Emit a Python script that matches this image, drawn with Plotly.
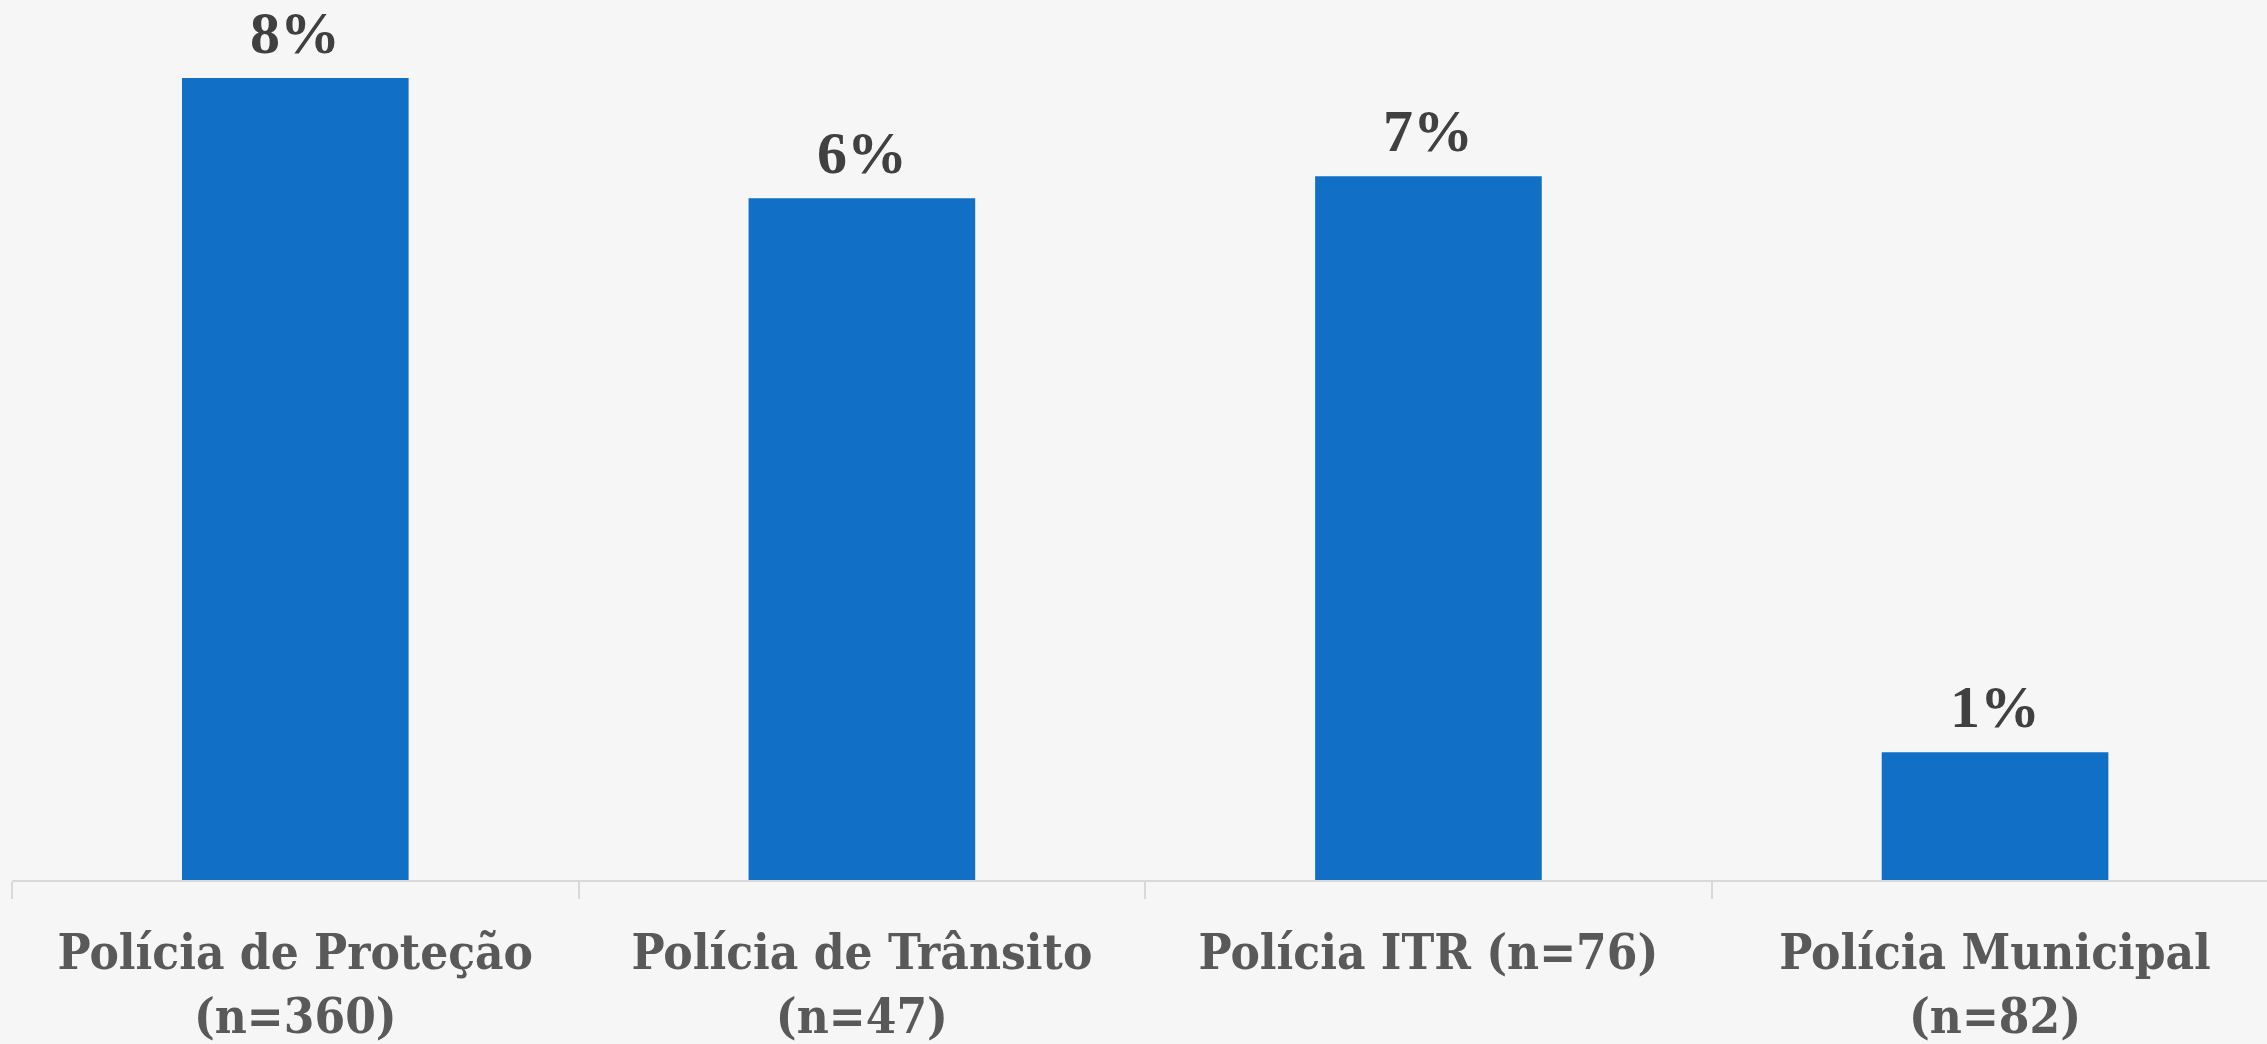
import plotly.graph_objects as go

categories = [
    "Polícia de Proteção<br>(n=360)",
    "Polícia de Trânsito<br>(n=47)",
    "Polícia ITR (n=76)",
    "Polícia Municipal<br>(n=82)",
]
values = [0.076, 0.0646, 0.0667, 0.0121]
labels = [f"{round(v * 100)}%" for v in values]

BG = "#f6f6f6"
fig = go.Figure(
    go.Bar(
        x=categories,
        y=values,
        marker=dict(color="#116FC6", line=dict(width=0)),
        width=0.4,
        hoverinfo="skip",
    )
)
for c, v, t in zip(categories, values, labels):
    fig.add_annotation(
        x=c, y=v, text=t, showarrow=False, yanchor="bottom", yshift=10,
        font=dict(family="Liberation Serif", size=60, color="#404040", weight="bold"),
    )
fig.update_layout(
    width=2267,
    height=1044,
    margin=dict(l=12, r=0, t=0, b=164),
    paper_bgcolor=BG,
    plot_bgcolor=BG,
    showlegend=False,
    xaxis=dict(
        range=[-0.5, 3.48],
        automargin=False,
        showline=True,
        linecolor="#d9d9d9",
        linewidth=2,
        ticks="outside",
        tickson="boundaries",
        ticklen=17,
        tickcolor="#d9d9d9",
        tickwidth=2,
        ticklabelstandoff=28,
        tickfont=dict(family="DejaVu Serif Condensed, Liberation Serif", size=49,
                      color="#595959", weight="bold"),
        showgrid=False,
    ),
    yaxis=dict(visible=False, range=[0, 0.0834], showgrid=False, zeroline=False,
               automargin=False),
    font=dict(family="Liberation Serif"),
)
fig.write_html(
    "out.html",
    config={"displayModeBar": False},
    post_script="document.body.style.margin='0';document.body.style.background='#f6f6f6';document.body.style.overflow='hidden';",
)
